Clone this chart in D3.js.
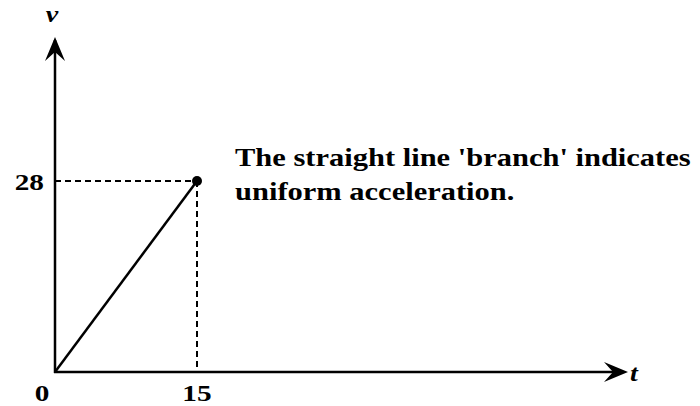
<!DOCTYPE html>
<html>
<head>
<meta charset="utf-8">
<script src="https://cdn.jsdelivr.net/npm/d3@7"></script>
<style>
  html, body { margin: 0; padding: 0; background: #fff; }
</style>
</head>
<body>
<main></main>
<script>
const width = 700;
const height = 406;
const serif = "'Liberation Serif', 'DejaVu Serif', serif";
const stretch = 1.22; // the source figure is a bit wider than tall

// data
const times = [0, 15];
const speeds = [0, 28];
const xTicks = [0, 15];
const yTicks = [28];
const note = ["The straight line 'branch' indicates", "uniform acceleration."];

const origin = {x: 55, y: 372};

const x = d3.scaleLinear().domain([0, 15]).range([origin.x, 197]);
const y = d3.scaleLinear().domain([0, 28]).range([origin.y, 181]);

const svg = d3.select("main")
    .append("svg")
        .attr("width", width)
        .attr("height", height)
        .style("display", "block");

function label(g, px, py, size) {
    return g.append("text")
        .attr("transform", `translate(${px},${py}) scale(${stretch},1)`)
        .attr("font-family", serif)
        .attr("font-size", size)
        .attr("font-weight", "bold");
}

// dashed guides
const px = x(times[1]), py = y(speeds[1]);
svg.append("line")
    .attr("x1", origin.x).attr("y1", py)
    .attr("x2", px).attr("y2", py)
    .attr("stroke", "#000").attr("stroke-width", 2)
    .attr("stroke-dasharray", "6,4");
svg.append("line")
    .attr("x1", px).attr("y1", py)
    .attr("x2", px).attr("y2", origin.y)
    .attr("stroke", "#000").attr("stroke-width", 2)
    .attr("stroke-dasharray", "6,4");

// axes with arrowheads
svg.append("line")
    .attr("x1", origin.x).attr("y1", origin.y + 1)
    .attr("x2", origin.x).attr("y2", 40)
    .attr("stroke", "#000").attr("stroke-width", 2.5);
svg.append("path")
    .attr("d", `M${origin.x - 10},${61} L${origin.x},${37} L${origin.x + 10},${61} L${origin.x},${52} Z`)
    .attr("fill", "#000");

svg.append("line")
    .attr("x1", origin.x - 1).attr("y1", origin.y)
    .attr("x2", 622).attr("y2", origin.y)
    .attr("stroke", "#000").attr("stroke-width", 2.5);
svg.append("path")
    .attr("d", `M${604},${origin.y - 10} L${628},${origin.y} L${604},${origin.y + 10} L${613},${origin.y} Z`)
    .attr("fill", "#000");

// data line
svg.append("path")
    .datum(times.map((t, i) => [t, speeds[i]]))
    .attr("d", d3.line().x(d => x(d[0])).y(d => y(d[1])))
    .attr("fill", "none")
    .attr("stroke", "#000")
    .attr("stroke-width", 2.5);

svg.append("circle")
    .attr("cx", px).attr("cy", py).attr("r", 5)
    .attr("fill", "#000");

// tick labels
xTicks.forEach(d => {
    label(svg, d === 0 ? origin.x - 13 : x(d), 401, 24)
        .attr("text-anchor", "middle")
        .text(d);
});
yTicks.forEach(d => {
    label(svg, 44, y(d) + 9, 24)
        .attr("text-anchor", "end")
        .text(d);
});

// axis names
label(svg, 52, 22, 23)
    .attr("text-anchor", "middle")
    .attr("font-style", "italic")
    .text("v");
label(svg, 630, 381, 23)
    .attr("font-style", "italic")
    .text("t");

// annotation
note.forEach((d, i) => {
    label(svg, 235, 166 + i * 34, 25).text(d);
});
</script>
</body>
</html>
